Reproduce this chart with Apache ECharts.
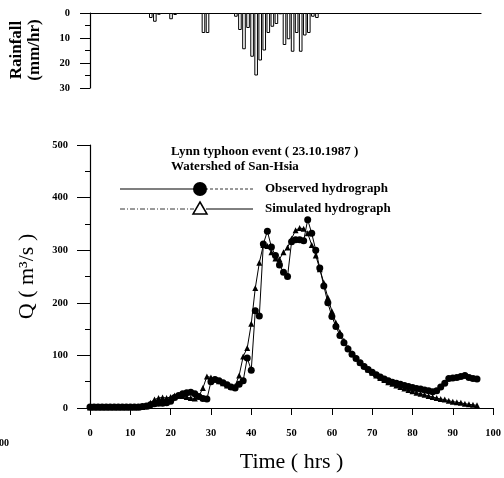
<!DOCTYPE html>
<html>
<head>
<meta charset="utf-8">
<script src="https://cdn.jsdelivr.net/npm/echarts@6/dist/echarts.min.js"></script>
<style>html,body{margin:0;padding:0;background:#fff;}#c{width:504px;height:478px;}</style>
</head>
<body>
<div id="c"></div>
<script>
// ---- data ----
var rainHours = [15, 16, 17, 20, 21, 28, 29, 36, 37, 38, 39, 40, 41, 42, 43, 44, 45, 46, 47, 48, 49, 50, 51, 52, 53, 54, 55, 56];
var rainMm    = [2, 3.5, 0.7, 2.5, 0.8, 8, 8, 1.5, 6.8, 14.5, 6, 17.5, 25, 19, 15, 8, 5.5, 4.4, 0.5, 12.8, 10.5, 15.5, 8, 15.5, 9, 8, 1.5, 2];

var hours = [];
for (var h = 0; h <= 96; h++) hours.push(h);

var observedQ = [2,2,2,2,2,2,2,2,2,2,2,2,2,3,
  4,6,8,9,9,10,13,20,24,27,29,30,27,22,18,17,
  50,54,52,48,44,40,38,45,52,95,72,185,175,312,336,306,290,272,258,250,
  316,320,320,318,358,332,300,266,232,200,174,155,138,124,112,102,94,86,79,73,
  68,63,59,55,52,49,47,45,43,41,39,37,36,34,33,31,33,40,47,56,
  57,58,60,62,58,56,55];
var simulatedQ = [1,1,1,1,1,1,1,1,1,1,1,1,1,2,
  3,10,16,19,20,19,21,24,24,23,21,19,18,22,38,60,
  58,55,51,47,43,40,42,62,98,114,160,228,276,310,308,296,284,283,296,305,
  322,338,342,341,332,310,290,264,238,210,184,162,144,128,115,104,95,87,80,73,
  67,62,57,53,49,46,43,40,37,34,32,29,27,25,23,21,19,17,16,14,
  12,11,10,8,7,6,5];

var xTicks = [0, 10, 20, 30, 40, 50, 60, 70, 80, 90, 100];
var qTicks = [0, 100, 200, 300, 400, 500];
var rainTicks = [0, 10, 20, 30];

var titleLine1 = 'Lynn typhoon event ( 23.10.1987 )';
var titleLine2 = 'Watershed of San-Hsia';
var obsName = 'Observed hydrograph';
var simName = 'Simulated hydrograph';

// ---- chart ----
var FONT = '"Liberation Serif", "DejaVu Serif", serif';
var chart = echarts.init(document.getElementById('c'), null, {renderer: 'canvas'});

function pairs(xs, ys) { return xs.map(function (x, i) { return [x, ys[i]]; }); }

var tickLabel = {fontFamily: FONT, fontWeight: 'bold', fontSize: 10.5, color: '#000'};

var LY1 = 189, LY2 = 209;

chart.setOption({
  animation: false,
  backgroundColor: '#fff',
  grid: [
    {left: 88, top: 13, width: 393, height: 75},
    {left: 90, top: 145, width: 405, height: 271}
  ],
  xAxis: [
    {gridIndex: 0, type: 'value', min: -0.5, max: 96.5, position: 'top',
     axisLine: {lineStyle: {color: '#000', width: 1.2}}, axisTick: {show: false},
     axisLabel: {show: false}, splitLine: {show: false}},
    {gridIndex: 1, type: 'value', min: xTicks[0], max: xTicks[xTicks.length - 1], interval: 10,
     name: 'Time ( hrs )', nameLocation: 'middle', nameGap: 43,
     nameTextStyle: {fontFamily: FONT, fontSize: 22, color: '#000'},
     axisLine: {onZero: false, lineStyle: {color: '#000', width: 1.2}},
     axisTick: {inside: false, length: 7, lineStyle: {color: '#000'}},
     axisLabel: Object.assign({margin: 20}, tickLabel),
     splitLine: {show: false}}
  ],
  yAxis: [
    {gridIndex: 0, type: 'value', inverse: true, min: rainTicks[0], max: rainTicks[rainTicks.length - 1], interval: 10,
     axisLine: {show: true, lineStyle: {color: '#000', width: 1.2}},
     axisTick: {show: true, length: 10, lineStyle: {color: '#000'}},
     minorTick: {show: true, splitNumber: 2, length: 5, lineStyle: {color: '#000'}},
     axisLabel: Object.assign({margin: 18}, tickLabel),
     splitLine: {show: false}},
    {gridIndex: 1, type: 'value', min: qTicks[0], max: qTicks[qTicks.length - 1], interval: 100,
     name: 'Q ( m\u00b3/s )', nameLocation: 'middle', nameGap: 52, nameRotate: 90,
     nameTextStyle: {fontFamily: FONT, fontSize: 22, color: '#000'},
     axisLine: {show: true, onZero: false, lineStyle: {color: '#000', width: 1.2}},
     axisTick: {show: true, length: 13, lineStyle: {color: '#000'}},
     minorTick: {show: true, splitNumber: 2, length: 5, lineStyle: {color: '#000'}},
     axisLabel: Object.assign({margin: 22}, tickLabel),
     splitLine: {show: false}}
  ],
  series: [
    {type: 'bar', xAxisIndex: 0, yAxisIndex: 0, data: pairs(rainHours, rainMm),
     barWidth: 3.6, itemStyle: {color: '#fff', borderColor: '#000', borderWidth: 1}},
    {type: 'line', name: simName, xAxisIndex: 1, yAxisIndex: 1, data: pairs(hours, simulatedQ),
     symbol: 'triangle', symbolSize: 6, showAllSymbol: true,
     itemStyle: {color: '#000'}, lineStyle: {color: '#000', width: 1}},
    {type: 'line', name: obsName, xAxisIndex: 1, yAxisIndex: 1, data: pairs(hours, observedQ),
     symbol: 'circle', symbolSize: 7, showAllSymbol: true,
     itemStyle: {color: '#000'}, lineStyle: {color: '#000', width: 1}}
  ],
  graphic: [
    {type: 'text', x: 26, y: 50, rotation: Math.PI / 2,
     style: {text: 'Rainfall\n(mm/hr)', font: 'bold 17px ' + FONT, fill: '#000',
             textAlign: 'center', textVerticalAlign: 'middle', lineHeight: 18}},
    {type: 'text', style: {text: titleLine1, x: 171, y: 152, font: 'bold 13px ' + FONT, fill: '#000', textVerticalAlign: 'middle'}},
    {type: 'text', style: {text: titleLine2, x: 171, y: 167, font: 'bold 13px ' + FONT, fill: '#000', textVerticalAlign: 'middle'}},
    {type: 'line', shape: {x1: 120, y1: LY1, x2: 195, y2: LY1}, style: {stroke: '#000', lineWidth: 1.2}},
    {type: 'line', shape: {x1: 205, y1: LY1, x2: 253, y2: LY1}, style: {stroke: '#000', lineWidth: 0.8, lineDash: [3, 2]}},
    {type: 'circle', shape: {cx: 200, cy: LY1, r: 7}, style: {fill: '#000'}},
    {type: 'text', style: {text: obsName, x: 265, y: LY1, font: 'bold 13px ' + FONT, fill: '#000', textVerticalAlign: 'middle'}},
    {type: 'line', shape: {x1: 120, y1: LY2, x2: 194, y2: LY2}, style: {stroke: '#000', lineWidth: 0.8, lineDash: [5, 2, 1, 2]}},
    {type: 'line', shape: {x1: 206, y1: LY2, x2: 253, y2: LY2}, style: {stroke: '#000', lineWidth: 1}},
    {type: 'polygon', shape: {points: [[200, LY2 - 7], [207, LY2 + 5], [193, LY2 + 5]]}, style: {fill: '#fff', stroke: '#000', lineWidth: 1.5}},
    {type: 'text', style: {text: simName, x: 265, y: LY2, font: 'bold 13px ' + FONT, fill: '#000', textVerticalAlign: 'middle'}},
    {type: 'text', style: {text: '100', x: 9, y: 443, font: 'bold 10px ' + FONT, fill: '#000', textAlign: 'right', textVerticalAlign: 'middle'}}
  ]
});
</script>
</body>
</html>
